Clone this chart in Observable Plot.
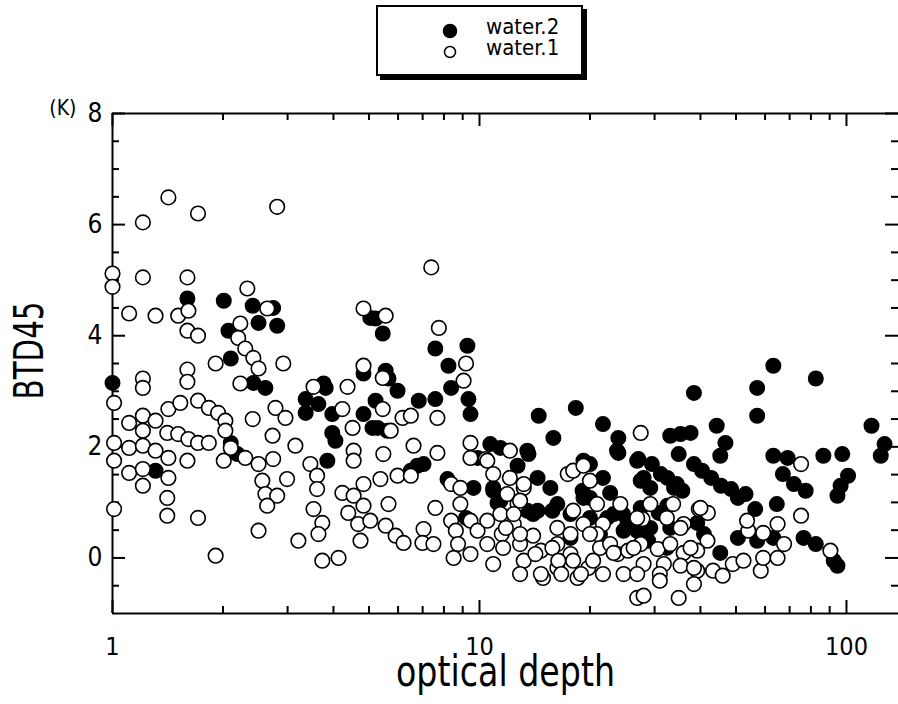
<!DOCTYPE html>
<html>
<head>
<meta charset="utf-8">
<script src="https://cdn.jsdelivr.net/npm/d3@7"></script>
<script src="https://cdn.jsdelivr.net/npm/@observablehq/plot@0.6"></script>
<style>
  html, body { margin: 0; padding: 0; background: #fff; overflow: hidden; }
  #wrap { position: relative; width: 898px; height: 704px; }
  #legend {
    position: absolute; left: 376px; top: 5px; width: 203px; height: 67px;
    border: 2px solid #000; box-shadow: 4px 4px 0 #000; background: #fff;
    font-family: "Liberation Sans Narrow", "DejaVu Sans Condensed", "Liberation Sans", sans-serif;
    font-size: 22px; color: #000;
  }
  #legend svg { position: absolute; left: 62px; top: 13px; }
  #legend .t { position: absolute; left: 108px; line-height: 20px; height: 20px; }
</style>
</head>
<body>
<div id="wrap">
  <div id="chart"></div>
  <div id="legend">
    <svg width="24" height="46">
      <circle cx="10" cy="11" r="6.5" fill="#000" stroke="#000" stroke-width="1.5"></circle>
      <circle cx="10" cy="32" r="5.5" fill="#fff" stroke="#000" stroke-width="1.5"></circle>
    </svg>
    <div class="t" style="top:10px">water.2</div>
    <div class="t" style="top:31px">water.1</div>
  </div>
</div>
<script>
// ---- data ----
const seriesNames = ["water.2", "water.1"];

const water1Depth = [1.42,1.21,1.71,2.81,7.39,1.00,1.00,1.21,1.60,2.33,1.11,1.31,1.51,1.61,1.60,1.71,2.64,2.23,2.20,2.30,2.42,2.50,2.92,1.91,1.60,1.60,1.21,1.21,2.23,3.53,4.37,4.83,4.83,1.01,1.01,1.01,1.01,1.11,1.21,1.21,1.31,1.42,1.53,1.71,1.83,1.94,2.03,2.03,1.41,1.51,1.61,1.71,1.83,1.11,1.21,1.31,1.42,1.11,1.21,1.21,1.42,1.60,1.41,1.41,1.71,1.91,2.01,2.10,2.30,2.41,2.50,2.73,2.74,2.56,2.61,2.81,2.64,2.50,2.99,2.78,2.96,3.15,3.21,3.46,3.61,3.61,3.53,3.73,3.64,3.73,4.13,4.23,4.51,4.54,4.54,4.23,4.54,4.39,4.83,4.67,4.74,4.83,5.55,7.75,9.19,9.05,5.45,5.45,5.73,6.17,6.50,7.68,9.45,5.47,6.61,7.68,5.37,5.98,6.50,5.65,7.58,8.37,8.87,8.87,9.45,10.4,12.1,5.55,5.91,6.21,7.04,6.99,7.49,8.37,8.62,8.74,8.50,9.45,9.88,10.5,11.5,11.6,10.9,12.4,12.9,13.2,12.9,14.0,14.7,14.9,16.3,16.3,17.7,18.5,19.8,21.3,21.7,23.8,24.7,26.9,10.5,10.9,12.1,13.2,11.9,12.7,17.4,18.0,19.2,20.0,18.0,16.3,19.2,20.9,21.7,24.2,20.9,22.7,25.4,9.45,5.04,27.5,75.2,75.2,90.4,29.2,33.7,39.6,36.0,27.8,41.8,27.5,30.6,33.1,36.0,39.2,28.0,31.8,35.3,39.2,38.4,28.0,34.9,31.0,43.3,46.0,49.0,52.4,58.4,59.3,54.0,53.6,59.3,64.9,67.6,64.9,41.9,11.8,12.9,14.2,14.7,15.8,16.4,16.7,17.7,18.0,18.9,20.0,20.4,23.2,26.3,26.9,26.9,32.4,35.3,37.6,40.0,38.4,31.0,13.2,12.9,11.4,10.5,12.4];
const water1BTD = [6.49,6.04,6.20,6.32,5.23,5.12,4.88,5.05,5.05,4.85,4.40,4.36,4.36,4.45,4.09,4.00,4.49,4.22,3.96,3.77,3.60,3.41,3.50,3.50,3.39,3.17,3.23,3.06,3.14,3.08,3.08,4.49,3.46,2.79,2.07,1.75,0.88,2.43,2.56,2.29,2.47,2.68,2.79,2.83,2.70,2.61,2.47,2.29,2.25,2.23,2.14,2.07,2.07,1.98,2.02,1.93,1.80,1.53,1.60,1.30,1.44,1.75,1.08,0.76,0.72,0.04,1.75,1.98,1.80,2.50,1.69,2.20,1.78,1.39,1.15,1.12,0.94,0.49,1.42,2.70,2.52,2.02,0.31,1.69,1.48,1.24,0.88,0.63,0.43,-0.05,0.00,2.68,2.34,1.93,1.75,1.17,1.12,0.81,0.94,0.61,0.31,1.33,4.36,4.14,3.50,3.19,3.24,2.68,2.29,2.52,2.56,2.52,2.07,1.87,2.02,1.89,1.42,1.48,1.48,0.97,0.90,1.33,1.26,0.97,1.80,1.78,1.93,0.58,0.40,0.27,0.52,0.27,0.25,0.67,0.49,0.25,0.00,0.67,0.49,0.25,0.43,0.18,-0.11,0.61,0.25,-0.05,-0.29,0.40,0.13,-0.36,0.25,-0.18,0.07,-0.36,-0.18,0.18,-0.29,0.07,-0.29,-0.72,1.75,1.51,1.44,1.26,1.15,0.97,1.51,1.57,1.66,1.39,0.85,0.54,0.61,0.97,0.61,0.97,0.43,0.25,0.13,0.07,0.67,2.25,1.69,0.76,0.13,0.97,0.97,0.88,0.61,0.70,0.31,0.25,0.16,0.25,0.09,0.13,-0.11,-0.11,-0.14,-0.23,-0.47,-0.68,-0.72,-0.29,-0.23,-0.32,-0.11,-0.05,-0.23,0.00,0.49,0.67,0.45,0.61,0.25,0.00,0.81,0.54,0.43,0.07,-0.29,0.18,-0.05,-0.29,0.43,-0.05,-0.29,0.43,-0.05,0.09,0.18,-0.29,0.72,0.72,0.54,0.18,0.90,-0.18,-0.41,1.33,1.03,0.79,0.67,0.79];

const water2Depth = [1.00,1.60,2.01,2.41,2.74,2.50,2.81,2.07,2.10,2.42,2.61,3.76,5.04,4.83,1.31,2.10,2.19,3.36,3.36,3.64,3.81,3.97,3.97,4.05,3.85,4.83,5.11,5.21,5.45,7.58,9.27,8.23,8.37,9.33,9.45,6.83,7.58,5.55,5.65,5.98,5.21,5.28,5.61,6.77,7.04,6.50,8.18,9.63,10.7,11.4,9.88,12.7,13.6,14.4,15.6,14.5,18.3,15.9,21.7,23.9,23.9,10.9,11.2,14.4,15.8,16.3,19.1,20.0,21.7,22.7,19.2,22.3,17.7,24.7,26.3,13.5,9.19,63.2,82.5,38.4,57.1,57.1,117,127,124,44.3,33.1,35.3,37.6,46.8,45.3,34.9,27.1,29.5,38.4,40.4,42.8,45.5,48.5,50.6,53.1,32.5,34.5,35.7,28.0,29.2,63.2,69.1,67.1,71.9,77.4,86.5,97.4,101,96.4,94.5,56.4,64.6,76.4,82.5,92.3,94.5,27.5,30.8,32.5,39.2,40.9,45.3,50.6,57.1,63.2,26.9,29.2,33.1,13.5,10.9,11.4,14.0,20.0,19.2,23.7,26.9,23.2,25.3,21.3,28.8,27.5,31.2,33.9,32.4,24.6,17.7,20.0];
const water2BTD = [3.15,4.67,4.63,4.54,4.50,4.23,4.18,4.09,3.59,3.15,3.06,3.14,4.32,3.32,1.57,2.07,1.87,2.86,2.61,2.77,3.06,2.59,2.25,2.11,1.75,2.59,2.34,4.31,4.04,3.77,3.82,3.46,3.06,2.86,2.59,2.83,2.86,3.37,3.23,3.01,2.83,2.34,2.29,1.66,1.69,1.57,1.42,1.26,2.05,1.98,1.80,1.66,1.87,1.44,1.26,2.56,2.70,2.16,2.41,2.16,1.89,1.21,0.99,0.85,0.85,0.97,1.21,1.69,1.44,1.17,1.08,0.72,0.36,0.49,0.67,0.85,0.72,3.46,3.23,2.97,3.06,2.56,2.38,2.05,1.84,2.38,2.20,2.23,2.25,2.07,1.84,1.87,1.78,1.69,1.69,1.57,1.44,1.30,1.24,1.08,1.15,1.44,1.33,1.21,1.44,1.26,1.84,1.80,1.51,1.33,1.21,1.84,1.87,1.48,1.30,1.12,0.88,0.97,0.36,0.25,-0.05,-0.14,0.90,0.81,0.94,0.63,0.43,0.09,0.36,0.31,0.36,0.49,0.54,0.54,1.93,1.26,1.03,0.79,1.08,1.75,1.93,1.75,0.79,0.61,0.43,0.31,1.39,1.51,1.26,0.18,0.79,0.79,0.72];

// axis ticks / labels
const xDomain = [1, 138.6];
const yDomain = [-1, 8];
const xMajor = [1, 10, 100];
const xMinor = [2,3,4,5,6,7,8,9,20,30,40,50,60,70,80,90];
const yMajor = [0, 2, 4, 6, 8];
const yMinor = [-0.5,0.5,1,1.5,2.5,3,3.5,4.5,5,5.5,6.5,7,7.5];
const xTitle = "optical depth";
const yTitle = "BTD45";
const yUnit = "(K)";

const water2 = water2Depth.map((d, i) => ({depth: d, btd: water2BTD[i], series: seriesNames[0]}));
const water1 = water1Depth.map((d, i) => ({depth: d, btd: water1BTD[i], series: seriesNames[1]}));

const W = 898, H = 704, mT = 113, mB = 91, mL = 112, mR = 0;
const innerW = W - mL - mR, innerH = H - mT - mB;
const font = "'Liberation Sans Narrow','DejaVu Sans Condensed','Liberation Sans',sans-serif";
const majLen = 13, minLen = 7;

const chart = Plot.plot({
  width: W, height: H,
  marginTop: mT, marginBottom: mB, marginLeft: mL, marginRight: mR,
  style: {fontFamily: font, fontSize: "25px", color: "#000", background: "#fff", overflow: "visible"},
  x: {type: "log", domain: xDomain, label: null},
  y: {domain: yDomain, label: null},
  marks: [
    // frame (left, top, bottom)
    Plot.ruleY([yDomain[0], yDomain[1]], {stroke: "#000", strokeWidth: 2}),
    Plot.ruleX([xDomain[0]], {stroke: "#000", strokeWidth: 2}),
    // x ticks bottom & top (inward)
    Plot.ruleX(xMajor, {stroke: "#000", strokeWidth: 2, insetTop: innerH - majLen}),
    Plot.ruleX(xMajor, {stroke: "#000", strokeWidth: 2, insetBottom: innerH - majLen}),
    Plot.ruleX(xMinor, {stroke: "#000", strokeWidth: 2, insetTop: innerH - minLen}),
    Plot.ruleX(xMinor, {stroke: "#000", strokeWidth: 2, insetBottom: innerH - minLen}),
    // y ticks left & right (inward)
    Plot.ruleY(yMajor, {stroke: "#000", strokeWidth: 2, insetRight: innerW - majLen}),
    Plot.ruleY(yMajor, {stroke: "#000", strokeWidth: 2, insetLeft: innerW - majLen}),
    Plot.ruleY(yMinor, {stroke: "#000", strokeWidth: 2, insetRight: innerW - minLen}),
    Plot.ruleY(yMinor, {stroke: "#000", strokeWidth: 2, insetLeft: innerW - minLen}),
    // tick labels
    Plot.axisX({ticks: xMajor, tickSize: 0, tickPadding: 24, tickFormat: d => String(d), fontSize: 25, label: null}),
    Plot.axisY({ticks: yMajor, tickSize: 0, tickPadding: 10, tickFormat: d => String(d), fontSize: 26, label: null}),
    // titles
    Plot.text([xTitle], {frameAnchor: "bottom", dy: 72, fontSize: 42, fill: "#000"}),
    Plot.text([yTitle], {frameAnchor: "left", rotate: -90, textAnchor: "middle", lineAnchor: "middle", dx: -82, dy: -13, fontSize: 40, fill: "#000"}),
    Plot.text([yUnit], {frameAnchor: "top-left", textAnchor: "end", lineAnchor: "middle", dx: -36, dy: -5, fontSize: 21, fill: "#000"}),
    // data
    Plot.dot(water2, {x: "depth", y: "btd", r: 7.3, fill: "#000", stroke: "#000", strokeWidth: 1.4}),
    Plot.dot(water1, {x: "depth", y: "btd", r: 7.3, fill: "#fff", stroke: "#000", strokeWidth: 1.6})
  ]
});
// squeeze the titles to the narrow face of the reference
d3.select(chart).selectAll("text").each(function () {
  const t = this.textContent;
  if (t === xTitle) d3.select(this).attr("textLength", 219).attr("lengthAdjust", "spacingAndGlyphs");
  if (t === yTitle) d3.select(this).attr("textLength", 98).attr("lengthAdjust", "spacingAndGlyphs");
});
document.getElementById("chart").appendChild(chart);
</script>
</body>
</html>
